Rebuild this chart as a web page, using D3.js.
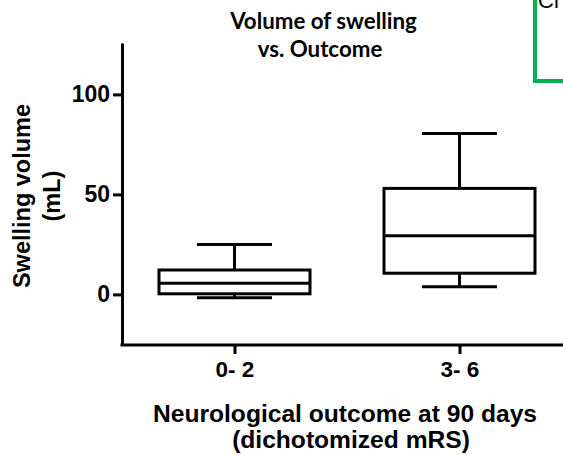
<!DOCTYPE html>
<html>
<head>
<meta charset="utf-8">
<script src="https://cdn.jsdelivr.net/npm/d3@7"></script>
<style>
  body { margin: 0; background: #fff; }
  text { font-family: "Liberation Sans", Arial, sans-serif; font-weight: bold; }
</style>
</head>
<body>
<div id="chart"></div>
<script>
// outcome groups (dichotomized mRS)
var groups = ['0- 2', '3- 6'];
var whiskerLow = [-1.7, 3.8];
var q1 = [0.3, 10.6];
var median = [5.6, 29.3];
var q3 = [12.2, 53];
var whiskerHigh = [25, 80.5];
var yTicks = [0, 50, 100];

var width = 563, height = 455,
  axisLeft = 122, axisBottom = 345, axisTop = 43;

var svg = d3.select('#chart').append('svg')
  .attr('width', width)
  .attr('height', height);

var x = d3.scalePoint()
  .domain(groups)
  .range([axisLeft, 572])
  .padding(0.5);

var y = d3.scaleLinear()
  .domain([-25.3, 125.7])
  .range([axisBottom, axisTop]);

var boxW = 151, capW = 75;

var boxes = groups.map(function (g, i) {
  return {g: g, lo: whiskerLow[i], q1: q1[i], med: median[i], q3: q3[i], hi: whiskerHigh[i]};
});

// y axis
var yAxis = svg.append('g')
  .attr('transform', 'translate(' + axisLeft + ',0)')
  .call(d3.axisLeft(y).tickValues(yTicks).tickSize(9).tickPadding(3).tickSizeOuter(0));
yAxis.select('.domain').attr('stroke-width', 3);
yAxis.selectAll('.tick line').attr('stroke-width', 3);
yAxis.selectAll('.tick text').attr('font-size', 23).attr('fill', '#000').attr('font-family', null);

// x axis
var xAxis = svg.append('g')
  .attr('transform', 'translate(0,' + axisBottom + ')')
  .call(d3.axisBottom(x).tickSize(9).tickPadding(7).tickSizeOuter(0));
xAxis.select('.domain').attr('stroke-width', 3).attr('d', 'M' + (axisLeft - 1.5) + ',0H' + width);
xAxis.selectAll('.tick line').attr('stroke-width', 3);
xAxis.selectAll('.tick text').attr('font-size', 22.5).attr('fill', '#000').attr('font-family', null);

// box plots
var bp = svg.append('g').selectAll('g')
  .data(boxes)
  .enter()
  .append('g')
  .attr('stroke', '#000')
  .attr('stroke-width', 3)
  .attr('fill', 'none');

bp.append('line')
  .attr('x1', function (d) { return x(d.g); })
  .attr('x2', function (d) { return x(d.g); })
  .attr('y1', function (d) { return y(d.hi); })
  .attr('y2', function (d) { return y(d.q3); });
bp.append('line')
  .attr('x1', function (d) { return x(d.g); })
  .attr('x2', function (d) { return x(d.g); })
  .attr('y1', function (d) { return y(d.q1); })
  .attr('y2', function (d) { return y(d.lo); });
bp.selectAll('.cap')
  .data(function (d) { return [{g: d.g, v: d.hi}, {g: d.g, v: d.lo}]; })
  .enter()
  .append('line')
  .attr('class', 'cap')
  .attr('x1', function (d) { return x(d.g) - capW / 2; })
  .attr('x2', function (d) { return x(d.g) + capW / 2; })
  .attr('y1', function (d) { return y(d.v); })
  .attr('y2', function (d) { return y(d.v); });
bp.append('rect')
  .attr('x', function (d) { return x(d.g) - boxW / 2; })
  .attr('width', boxW)
  .attr('y', function (d) { return y(d.q3); })
  .attr('height', function (d) { return y(d.q1) - y(d.q3); })
  .attr('fill', '#fff');
bp.append('line')
  .attr('x1', function (d) { return x(d.g) - boxW / 2; })
  .attr('x2', function (d) { return x(d.g) + boxW / 2; })
  .attr('y1', function (d) { return y(d.med); })
  .attr('y2', function (d) { return y(d.med); });

// title
var title = svg.append('text')
  .attr('text-anchor', 'middle')
  .attr('font-size', 22.3)
  .style('font-family', 'Lato, "Open Sans", sans-serif');
title.append('tspan').attr('x', 323.5).attr('y', 29).text('Volume of swelling');
title.append('tspan').attr('x', 320).attr('y', 57).text('vs. Outcome');

// y axis title
var yTitle = svg.append('text')
  .attr('text-anchor', 'middle')
  .attr('font-size', 23.5)
  .attr('transform', 'translate(0,196) rotate(-90)');
yTitle.append('tspan').attr('x', 0).attr('y', 30).text('Swelling volume');
yTitle.append('tspan').attr('x', 0).attr('y', 60).text('(mL)');

// x axis title
var xTitle = svg.append('text')
  .attr('text-anchor', 'middle')
  .attr('font-size', 24.6);
xTitle.append('tspan').attr('x', 345).attr('y', 422).text('Neurological outcome at 90 days');
xTitle.append('tspan').attr('x', 351).attr('y', 448).text('(dichotomized mRS)');

// cropped panel at the top right
svg.append('rect')
  .attr('x', 535)
  .attr('y', -20)
  .attr('width', 60)
  .attr('height', 101)
  .attr('fill', 'none')
  .attr('stroke', '#00b050')
  .attr('stroke-width', 4);
svg.append('text')
  .attr('x', 538)
  .attr('y', 8)
  .attr('font-size', 22)
  .style('font-weight', 'normal')
  .text('Cl');
</script>
</body>
</html>
